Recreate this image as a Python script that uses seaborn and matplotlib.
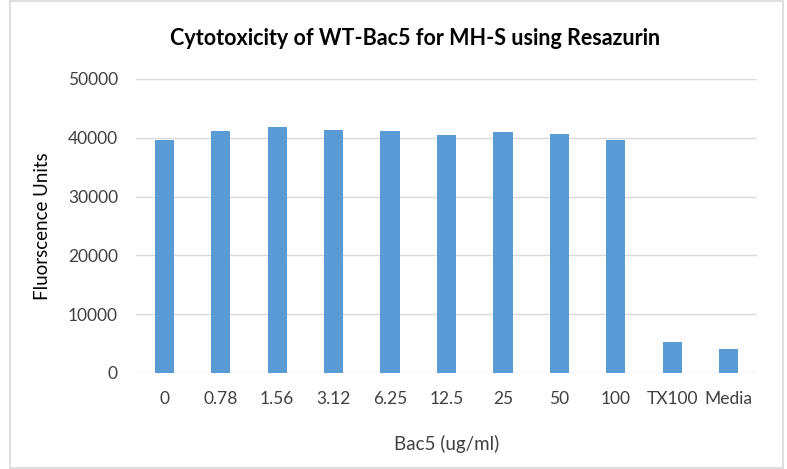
import matplotlib
matplotlib.use('Agg')
import matplotlib.pyplot as plt
import seaborn as sns
import pandas as pd
from matplotlib.patches import Rectangle

# data
concentrations = ['0', '0.78', '1.56', '3.12', '6.25', '12.5', '25', '50', '100', 'TX100', 'Media']
fluorescence = [39600, 41200, 41800, 41300, 41200, 40400, 41000, 40600, 39600, 5300, 4100]
y_ticks = [0, 10000, 20000, 30000, 40000, 50000]

df = pd.DataFrame({'conc': concentrations, 'fluor': fluorescence})

sns.set_style('white')
plt.rcParams['font.family'] = ['Lato', 'DejaVu Sans']

fig = plt.figure(figsize=(7.87, 4.69), dpi=100)
ax = fig.add_axes([0.1728, 0.2047, 0.789, 0.627])

sns.barplot(data=df, x='conc', y='fluor', color='#5B9BD5', width=0.34,
            saturation=1, edgecolor='none', ax=ax)

ax.set_ylim(0, 50000)
ax.set_yticks(y_ticks)
ax.set_yticklabels([str(v) for v in y_ticks], fontsize=12.5, color='#404040')
ax.tick_params(axis='x', labelsize=12.5, labelcolor='#404040', length=0, pad=13)
ax.tick_params(axis='y', length=0, pad=13)
ax.yaxis.grid(True, color='#d9d9d9', linewidth=1)
ax.set_axisbelow(True)
for s in ax.spines.values():
    s.set_visible(False)

ax.set_xlabel('Bac5 (ug/ml)', fontsize=13.5, color='#404040', labelpad=20)
ax.set_ylabel('Fluorscence Units', fontsize=13.5, color='#000000', labelpad=12)
fig.text(0.527, 0.918, 'Cytotoxicity of WT-Bac5 for MH-S using Resazurin',
         ha='center', va='center', fontsize=15.5, fontweight='bold', color='#000000')

# chart border
fig.patches.append(Rectangle((0.013, 0.003), 0.982, 0.995, transform=fig.transFigure,
                             fill=False, edgecolor='#d9d9d9', linewidth=1.2))

fig.savefig('out.png', dpi=100)
